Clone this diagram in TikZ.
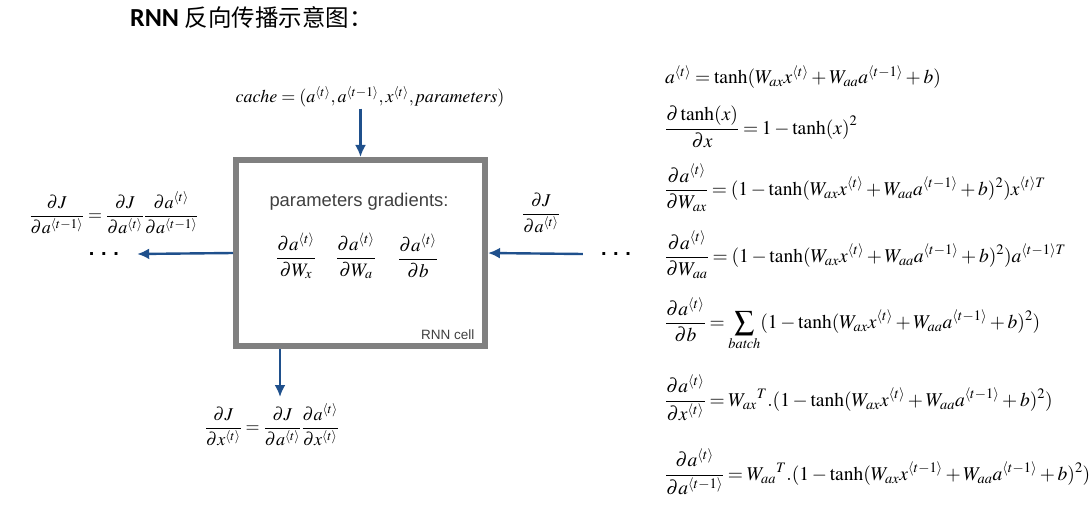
\documentclass[tikz,border=0pt]{standalone}
\usepackage{amsmath}
\usepackage{mathptmx}
\usepackage{fontspec}
\usepackage{tikz}
\usetikzlibrary{arrows.meta, positioning, calc}
\newfontfamily\cjk{Noto Sans CJK SC}
\newfontfamily\titlefont{Carlito}
\newfontfamily\helv{Liberation Sans}
\definecolor{flowblue}{RGB}{31,80,140}
\definecolor{cellgray}{RGB}{128,128,128}
\newcommand{\tang}{\langle t\rangle}
\newcommand{\tmang}{\langle t-1\rangle}
\newcommand{\inner}[1]{W_{ax}x^{#1}+W_{aa}a^{\tmang}+b}
\newcommand{\tightmath}{\medmuskip=2.5mu\relax\thickmuskip=3.5mu\relax}

\begin{document}
\begin{tikzpicture}[x=1pt, y=-1pt,
    flow/.style={-{Latex[length=12pt,width=11pt]}, line width=2.4pt, flowblue},
    eq/.style={anchor=west, inner sep=0pt, font=\fontsize{19.5}{23}\selectfont},
    grad/.style={inner sep=1pt, font=\fontsize{18}{21}\selectfont},
    dots/.style={inner sep=2pt, font=\helv\bfseries\fontsize{20}{24}\selectfont}]
    \useasboundingbox (0,0) rectangle (1090,508);
    \node[anchor=base west, inner sep=0pt] (title) at (130,27) {\titlefont\bfseries\fontsize{26}{30}\selectfont RNN \cjk\mdseries\fontsize{23.5}{28}\selectfont 反向传播示意图：};

    % the cell
    \node[draw=cellgray, line width=6pt, minimum width=249pt, minimum height=186pt, inner sep=0pt] (cell) at (360.5,253) {};
    \node[font=\helv\fontsize{18.4}{22}\selectfont, text=black!75] (pgtitle) at (359,202) {parameters gradients:};
    \node[grad, font=\fontsize{19}{22}\selectfont] (dWx) at (296,256) {$\displaystyle\frac{\partial a^{\tang}}{\partial W_x}$};
    \node[grad, font=\fontsize{19}{22}\selectfont] (dWa) at (356,256) {$\displaystyle\frac{\partial a^{\tang}}{\partial W_a}$};
    \node[grad, font=\fontsize{19}{22}\selectfont] (db) at (418,256) {$\displaystyle\frac{\partial a^{\tang}}{\partial b}$};
    \node[anchor=south east, font=\helv\fontsize{13.5}{16}\selectfont, text=black!75] (celllbl) at (478,343) {RNN cell};

    % around the cell
    \node[grad] (cache) at (370,97) {$\mathit{cache}=(a^{\tang},a^{\tmang},x^{\tang},\mathit{parameters})$};
    \node[grad] (daJ) at (114,213) {$\displaystyle\frac{\partial J}{\partial a^{\tmang}}=\frac{\partial J}{\partial a^{\tang}}\frac{\partial a^{\tang}}{\partial a^{\tmang}}$};
    \node[grad] (dJ) at (541,213) {$\displaystyle\frac{\partial J}{\partial a^{\tang}}$};
    \node[grad] (dxJ) at (272,425) {$\displaystyle\frac{\partial J}{\partial x^{\tang}}=\frac{\partial J}{\partial a^{\tang}}\frac{\partial a^{\tang}}{\partial x^{\tang}}$};
    \node[dots] (dotsL) at (104,254) {.\,\,.\,\,.};
    \node[dots] (dotsR) at (616,254) {.\,\,.\,\,.};
    \coordinate (drop) at (280,397);

    \draw[flow] (cell.north |- cache.south) -- (cell.north);
    \draw[flow] (cell.west) -- ([xshift=16pt]dotsL.east);
    \draw[flow] ([xshift=-16pt]dotsR.west) -- (cell.east);
    \draw[flow] (cell.south -| drop) -- (drop);

    % equations on the right
    \node[eq] (e1) at (665,77) {$\tightmath a^{\tang}=\tanh(\inner{\tang})$};
    \node[eq] (e2) at (665,127) {$\tightmath\displaystyle\frac{\partial\tanh(x)}{\partial x}=1-\tanh(x)^2$};
    \node[eq] (e3) at (665,188) {$\tightmath\displaystyle\frac{\partial a^{\tang}}{\partial W_{ax}}=(1-\tanh(\inner{\tang})^2)x^{\tang T}$};
    \node[eq] (e4) at (665,255) {$\tightmath\displaystyle\frac{\partial a^{\tang}}{\partial W_{aa}}=(1-\tanh(\inner{\tang})^2)a^{\tmang T}$};
    \node[eq] (e5) at (665,324) {$\tightmath\displaystyle\frac{\partial a^{\tang}}{\partial b}=\sum_{\mathit{batch}}(1-\tanh(\inner{\tang})^2)$};
    \node[eq] (e6) at (665,398) {$\tightmath\displaystyle\frac{\partial a^{\tang}}{\partial x^{\tang}}=W_{ax}{}^T.(1-\tanh(\inner{\tang})^2)$};
    \node[eq] (e7) at (665,472) {$\tightmath\displaystyle\frac{\partial a^{\tang}}{\partial a^{\tmang}}=W_{aa}{}^T.(1-\tanh(\inner{\tmang})^2)$};
\end{tikzpicture}
\end{document}
